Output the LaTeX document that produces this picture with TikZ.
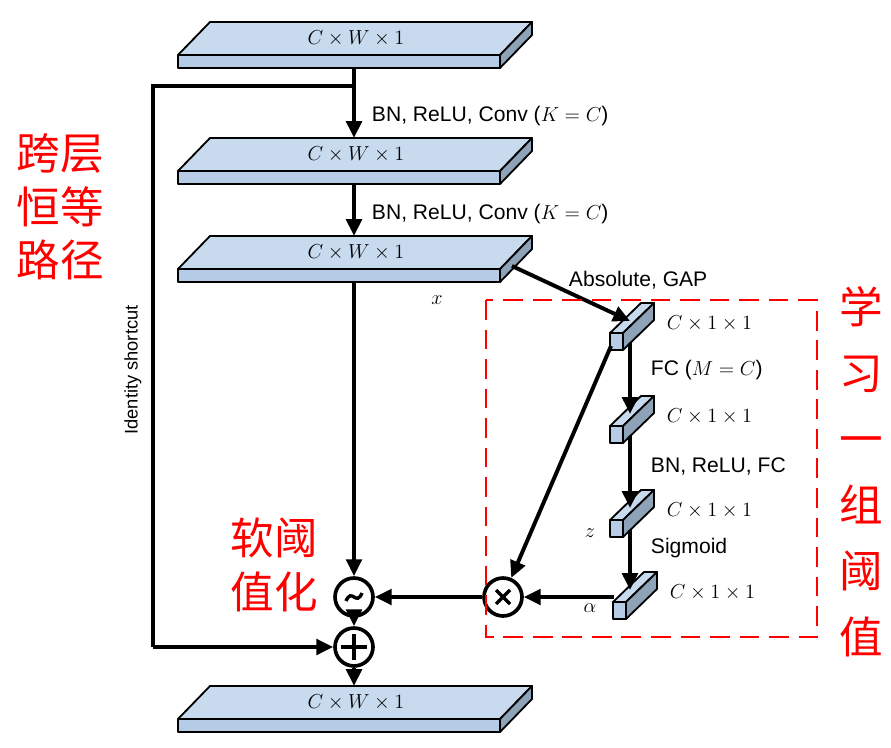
\documentclass[tikz,border=0pt]{standalone}
\usepackage{fontspec}
\setmainfont{Liberation Sans}
\newfontfamily\cjk{Noto Sans CJK SC}
\usetikzlibrary{arrows.meta,calc}
\definecolor{topc}{HTML}{C8DAEE}
\definecolor{frontc}{HTML}{B5CBE6}
\definecolor{sidec}{HTML}{8FA3B8}
\tikzset{
  flow/.style={line width=2.8pt,-{Triangle[length=12pt,width=11pt]}},
  line/.style={line width=2.8pt},
  face/.style={draw=black,line width=1.3pt,line join=round},
  op/.style={circle,draw=black,line width=2.6pt,minimum size=27pt,inner sep=0pt},
  lbl/.style={font=\fontsize{15}{15}\selectfont,anchor=west},
  cjklabel/.style={text=red,font=\cjk\fontsize{31}{38}\selectfont,align=center}
}
% slab: name, y of back edge, text
\newcommand{\slab}[3]{%
  \fill[face,fill=topc] (178,#2+33) -- (210,#2) -- (532,#2) -- (500,#2+33) -- cycle;
  \fill[face,fill=frontc] (178,#2+33) rectangle (500,#2+46);
  \fill[face,fill=sidec] (500,#2+33) -- (532,#2) -- (532,#2+13) -- (500,#2+46) -- cycle;
  \node[font=\fontsize{15}{15}\selectfont] (#1) at (356,#2+16) {$C\times W\times 1$};
  \coordinate (#1-in) at (354,#2);
  \coordinate (#1-out) at (354,#2+46);}
% cube: name, x, y of front top
\newcommand{\cube}[3]{%
  \fill[face,fill=topc] (#2,#3) -- (#2+31,#3-30) -- (#2+44,#3-30) -- (#2+13,#3) -- cycle;
  \fill[face,fill=sidec] (#2+13,#3) -- (#2+44,#3-30) -- (#2+44,#3-13) -- (#2+13,#3+17) -- cycle;
  \fill[face,fill=frontc] (#2,#3) rectangle (#2+13,#3+17);
  \node[font=\fontsize{15}{15}\selectfont,anchor=west] (#1) at (#2+52,#3-10) {$C\times 1\times 1$};
  \coordinate (#1-in) at (630,#3-12);
  \coordinate (#1-out) at (630,#3+10);}
\begin{document}
\begin{tikzpicture}[x=0.025cm,y=-0.025cm]
\useasboundingbox (0,0) rectangle (891,747);

\slab{s1}{22}{}
\slab{s2}{138}{}
\slab{s3}{236}{}
\slab{s4}{686}{}

\cube{c1}{610}{333}
\cube{c2}{610}{426}
\cube{c3}{610}{520}
\cube{c4}{613}{602}

\node[op] (soft) at (354,597) {};
\draw[line width=2.4pt] ($(soft)+(-8,4)$) .. controls ($(soft)+(-2,-10)$) and ($(soft)+(2,10)$) .. ($(soft)+(8,-4)$);
\node[op] (mul) at (503,597) {};
\draw[line width=2.4pt] ($(mul)+(-7,-7)$) -- ($(mul)+(7,7)$) ($(mul)+(-7,7)$) -- ($(mul)+(7,-7)$);
\node[op] (add) at (354,647) {};
\draw[line width=2.4pt] ($(add)+(-13,0)$) -- ($(add)+(13,0)$) ($(add)+(0,-13)$) -- ($(add)+(0,13)$);

\coordinate (split) at (354,86);
\coordinate (sc1) at (153,86);
\coordinate (sc2) at (153,647);
\coordinate (s3r) at (512,266);
\coordinate (c1l) at (611,346);
\coordinate (c4l) at (614,597);

\draw[flow] (s1-out) -- (s2-in);
\draw[flow] (s2-out) -- (s3-in);
\draw[flow] (s3-out) -- (soft);
\draw[line] (split) -- (sc1) -- (sc2);
\draw[flow] (sc2) -- (add);
\draw[flow] (soft) -- (add);
\draw[flow] (add) -- (s4-in);
\draw[flow] (s3r) -- (c1-in);
\draw[flow] (c1-out) -- (c2-in);
\draw[flow] (c2-out) -- (c3-in);
\draw[flow] (c3-out) -- (c4-in);
\draw[flow] (c1l) -- (mul);
\draw[flow] (c4l) -- (mul);
\draw[flow] (mul) -- (soft);

\node[lbl] at (367,116) {BN, ReLU, Conv ($K=C$)};
\node[lbl] at (367,214) {BN, ReLU, Conv ($K=C$)};
\node[lbl] at (564,280) {Absolute, GAP};
\node[lbl] at (646,370) {FC ($M=C$)};
\node[lbl] at (646,466) {BN, ReLU, FC};
\node[lbl] at (646,548) {Sigmoid};
\node[font=\fontsize{15}{15}\selectfont] at (437,300) {$x$};
\node[font=\fontsize{15}{15}\selectfont] at (590,533) {$z$};
\node[font=\fontsize{15}{15}\selectfont] at (590,608) {$\alpha$};
\node[rotate=90,font=\fontsize{13}{13}\selectfont] at (133,370) {Identity shortcut};

\draw[red,line width=2pt,dash pattern=on 14pt off 7pt] (486,300) rectangle (817,637);
\node[cjklabel] at (60,207) {跨层\\恒等\\路径};
\node[cjklabel] at (274,565) {软阈\\值化};
\node[cjklabel,font=\cjk\fontsize{31}{47}\selectfont] at (861,472) {学\\习\\一\\组\\阈\\值};
\end{tikzpicture}
\end{document}
